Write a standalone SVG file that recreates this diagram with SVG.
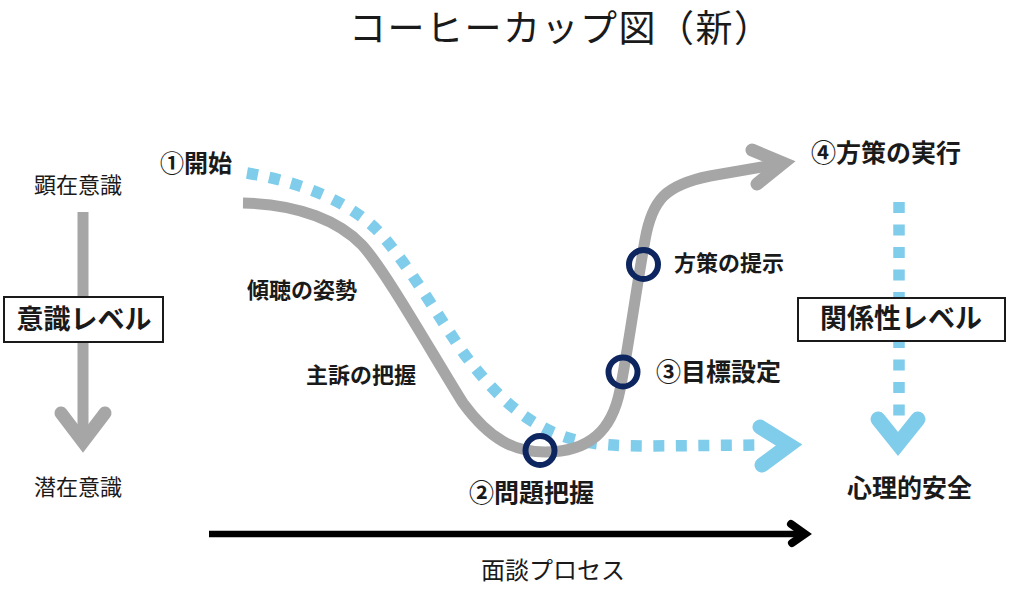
<svg xmlns="http://www.w3.org/2000/svg" width="1024" height="595" viewBox="0 0 1024 595">
<style>
.t{font-family:"Noto Sans CJK JP","Noto Sans",sans-serif;fill:#1a1a1a}
.lb{font-weight:bold}
.gray{fill:none;stroke:#A6A6A6;stroke-width:11}
.grayh{fill:none;stroke:#A6A6A6;stroke-width:13;stroke-linecap:round;stroke-linejoin:miter;stroke-miterlimit:10}
.blue{fill:none;stroke:#80CCEB;stroke-width:11.5;stroke-dasharray:11 11.5}
.blueh{fill:none;stroke:#80CCEB;stroke-width:15;stroke-linecap:round;stroke-linejoin:miter;stroke-miterlimit:10}
.ring{fill:none;stroke:#0E2660;stroke-width:6}
.box{fill:#fff;stroke:#1a1a1a;stroke-width:2}
</style>
<rect width="1024" height="595" fill="#fff"/>
<g id="title"><text class="t" x="349" y="42" font-size="37" letter-spacing="1.5">コーヒーカップ図（新）</text></g>

<g id="connectors">
  <!-- consciousness level arrow -->
  <line class="gray" x1="83" y1="212" x2="83" y2="440"/>
  <polyline class="grayh" points="61,413 83,442 105,413"/>
  <!-- blue dotted curve -->
  <path class="blue" d="M247,173 C300,182 345,200 375,228 C405,258 440,320 465,355 C495,395 530,430 580,441 C600,445 620,446 650,446 L760,445"/>
  <polyline class="blueh" points="760,427 789,445 762,465"/>
  <!-- gray main curve -->
  <path class="gray" d="M243,203 C300,204 340,222 362,245 C385,270 430,350 463,403 C490,440 515,452 545,452 C590,452 612,430 620,390 C628,350 636,290 645,240 C652,200 665,185 710,176 L785,163"/>
  <polyline class="grayh" points="752,150 783,163 757,184"/>
  <!-- relationship level dotted arrow -->
  <line class="blue" x1="899" y1="202" x2="899" y2="425"/>
  <polyline class="blueh" points="878,419 898,444 918,419"/>
  <!-- process arrow -->
  <line x1="209" y1="534" x2="805" y2="534" stroke="#000" stroke-width="6.5"/>
  <polyline points="791,524 805,534 792,543" fill="none" stroke="#000" stroke-width="8" stroke-linecap="round" stroke-linejoin="miter"/>
</g>

<g id="markers">
  <circle class="ring" cx="540" cy="450.5" r="14.5"/>
  <circle class="ring" cx="623" cy="372" r="14.5"/>
  <circle class="ring" cx="643.5" cy="264.5" r="14.5"/>
</g>

<g id="n-kenzai"><text class="t" x="78" y="193" font-size="22" text-anchor="middle">顕在意識</text></g>
<g id="n-senzai"><text class="t" x="78" y="495" font-size="22" text-anchor="middle">潜在意識</text></g>
<g id="n-ishiki">
  <rect class="box" x="4" y="297" width="159" height="45"/>
  <text class="t lb" x="84" y="329" font-size="27" text-anchor="middle">意識レベル</text>
</g>
<g id="n-kankei">
  <rect class="box" x="798" y="298" width="207" height="43"/>
  <text class="t lb" x="901" y="328" font-size="27" text-anchor="middle">関係性レベル</text>
</g>
<g id="n-start"><text class="t lb" x="160" y="172" font-size="24">①開始</text></g>
<g id="n-keicho"><text class="t lb" x="247" y="298" font-size="22">傾聴の姿勢</text></g>
<g id="n-shuso"><text class="t lb" x="306" y="383" font-size="22">主訴の把握</text></g>
<g id="n-mondai"><text class="t lb" x="469" y="502" font-size="25">②問題把握</text></g>
<g id="n-mokuhyo"><text class="t lb" x="656" y="381" font-size="25">③目標設定</text></g>
<g id="n-teiji"><text class="t lb" x="674" y="271" font-size="22">方策の提示</text></g>
<g id="n-jikko"><text class="t lb" x="811" y="162" font-size="25">④方策の実行</text></g>
<g id="n-anzen"><text class="t lb" x="847" y="497" font-size="25">心理的安全</text></g>
<g id="n-process"><text class="t" x="481" y="579" font-size="24">面談プロセス</text></g>
</svg>
